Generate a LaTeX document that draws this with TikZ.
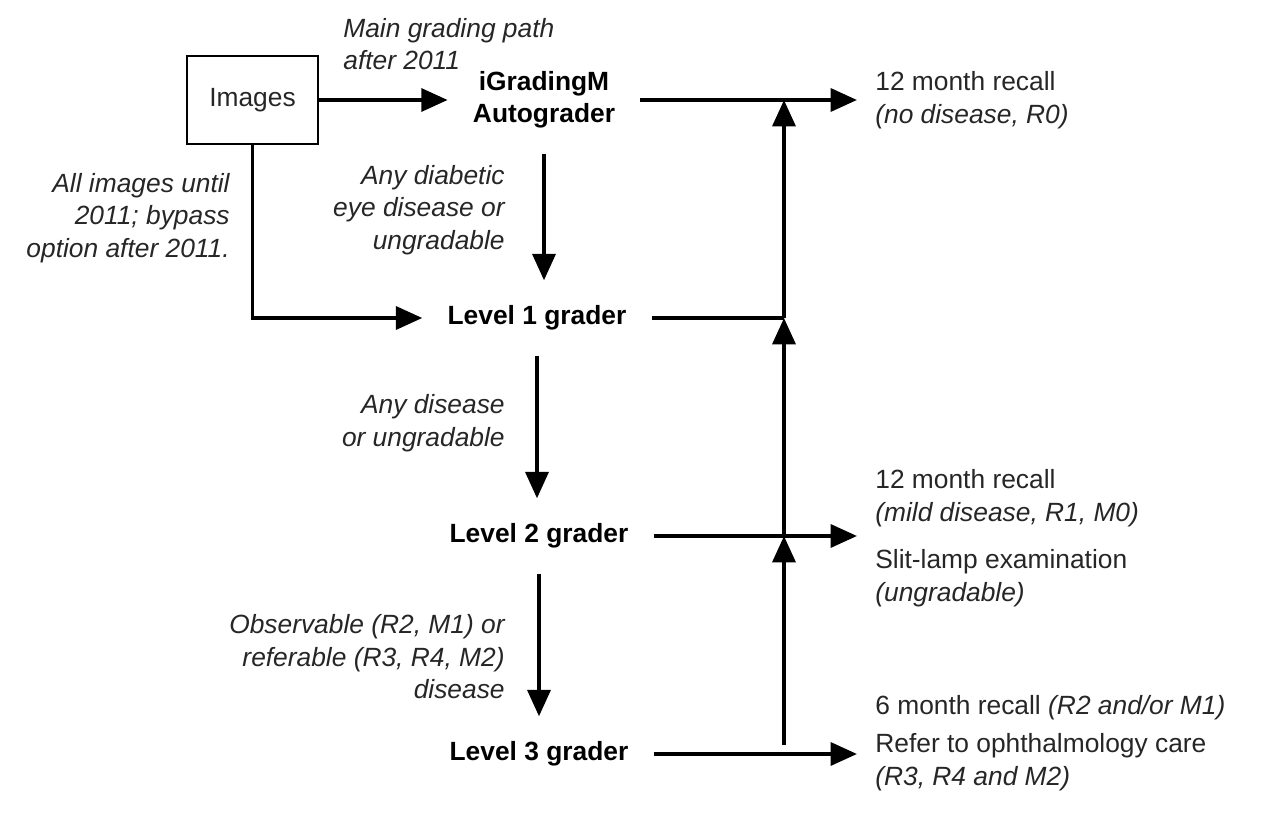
\documentclass[tikz,border=0pt]{standalone}
\usepackage{fontspec}
\setmainfont{Liberation Sans}
\usetikzlibrary{arrows.meta}
\usetikzlibrary{positioning}

\begin{document}
\begin{tikzpicture}[x=0.02cm, y=-0.02cm,
    every node/.style={font=\fontsize{15}{18.5}\selectfont},
    arr/.style={line width=2.2pt, -{Triangle[length=15pt, width=13pt]}},
    link/.style={line width=2.2pt},
    grader/.style={font=\fontsize{15}{18.5}\selectfont\bfseries, align=center, inner xsep=0.5cm, inner ysep=0.5cm},
    note/.style={font=\fontsize{15}{18.5}\selectfont\itshape, text=black!85, inner sep=0},
    result/.style={align=left, text=black!85, inner xsep=0.36cm, inner ysep=0}]
  \useasboundingbox (0,0) rectangle (1269,813);

  % grading steps
  \node[draw, line width=1.1pt, minimum width=2.62cm, minimum height=1.76cm, text=black!85] (images) at (252.5,100) {Images};
  \node[grader] (auto) at (544,100) {iGradingM\\Autograder};
  \node[grader] (lone) at (537,318) {Level 1 grader};
  \node[grader] (ltwo) at (539,536) {Level 2 grader};
  \node[grader] (lthree) at (539,754) {Level 3 grader};

  % notes on the arrows
  \node[note, align=left, anchor=west] (mainnote) at (343,44) {Main grading path\\after 2011};
  \node[note, align=right, anchor=east] (bypass) at (230,218) {All images until\\2011; bypass\\option after 2011.};
  \node[note, align=right, anchor=east] (anydiab) at (505,210) {Any diabetic\\eye disease or\\ungradable};
  \node[note, align=right, anchor=east] (anydis) at (505,423) {Any disease\\or ungradable};
  \node[note, align=right, anchor=east] (observ) at (505,657) {Observable (R2, M1) or\\referable (R3, R4, M2)\\disease};

  % outcomes
  \node[result, anchor=west] (outzero) at (857,100) {12 month recall\\\textit{(no disease, R0)}};
  \node[result, anchor=west] (outonea) at (857,498) {12 month recall\\\textit{(mild disease, R1, M0)}};
  \node[result, anchor=west] (outoneb) at (857,578) {Slit-lamp examination\\\textit{(ungradable)}};
  \node[result, anchor=base west] (outtwoa) at (857,715) {6 month recall \textit{(R2 and/or M1)}};
  \node[result, anchor=west] (outtwob) at (857,762) {Refer to ophthalmology care\\\textit{(R3, R4 and M2)}};

  \coordinate (tone) at (857,536);
  \coordinate (ttwo) at (857,754);
  \coordinate (jone) at (784,318);
  \coordinate (jtwo) at (784,536);
  \coordinate (jthree) at (784,745);

  % main path
  \draw[arr] (images) -- (auto);
  \draw[arr] (images.south) |- (lone);
  \draw[arr] (auto.south) -- (auto.south |- lone.north);
  \draw[arr] (lone.south) -- (lone.south |- ltwo.north);
  \draw[arr] (ltwo.south) -- (ltwo.south |- lthree.north);

  % to the outcomes
  \draw[arr] (auto) -- (outzero);
  \draw[arr] (ltwo) -- (tone);
  \draw[arr] (lthree) -- (ttwo);
  \draw[link] (lone) -- (jone);
  \draw[arr] (jone) -- (jone |- auto);
  \draw[arr] (jtwo) -- (jone);
  \draw[arr] (jthree) -- (jtwo);
\end{tikzpicture}
\end{document}
